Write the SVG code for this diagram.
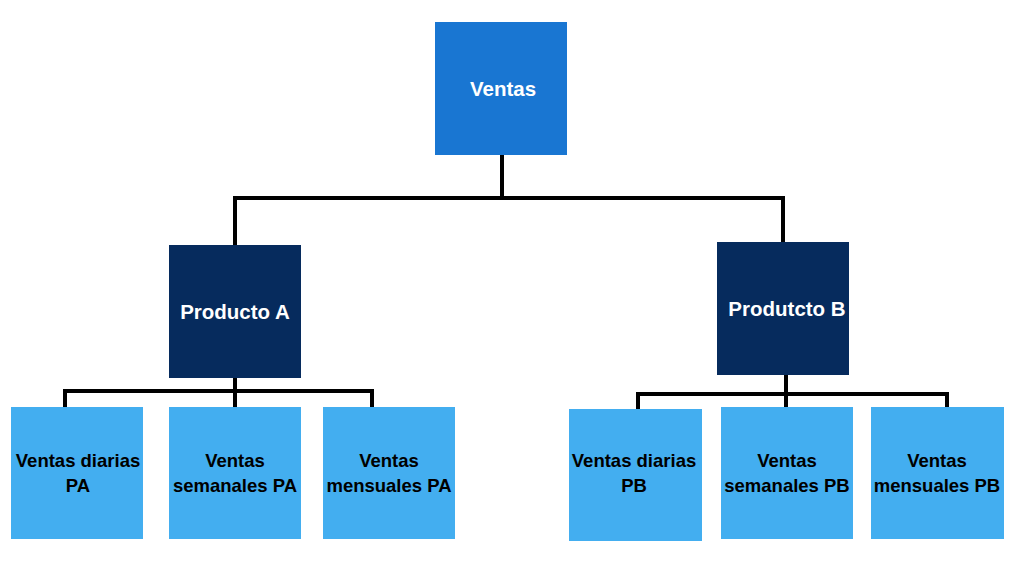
<svg xmlns="http://www.w3.org/2000/svg" width="1024" height="573" viewBox="0 0 1024 573">
<style>
.top{fill:#1976D2}
.mid{fill:#062B5D}
.leaf{fill:#43AEF0}
.conn{fill:none;stroke:#000;stroke-width:4;stroke-linejoin:miter}
.wt{font-family:"Liberation Sans",Arial,sans-serif;font-weight:bold;font-size:20.5px;fill:#fff;text-anchor:middle}
.bt{font-family:"Liberation Sans",Arial,sans-serif;font-weight:bold;font-size:18.5px;fill:#000;text-anchor:middle}
</style>
<rect width="1024" height="573" fill="#fff"/>
<g id="connectors">
<path class="conn" d="M502 155 V198 M235 245 V198 H783 V242"/>
<path class="conn" d="M235 378 V407 M65 407 V391 H372 V407"/>
<path class="conn" d="M786 375 V407 M638 409 V394 H947 V407"/>
</g>
<g id="ventas">
<rect class="top" x="435" y="22" width="132" height="133"/>
<text class="wt" x="503" y="96">Ventas</text>
</g>
<g id="productoA">
<rect class="mid" x="169" y="245" width="132" height="133"/>
<text class="wt" x="235" y="319">Producto A</text>
</g>
<g id="productoB">
<rect class="mid" x="717" y="242" width="132" height="133"/>
<text class="wt" x="787" y="316">Produtcto B</text>
</g>
<g id="diariasPA">
<rect class="leaf" x="11" y="407" width="132" height="132"/>
<text class="bt" x="78" y="467">Ventas diarias</text>
<text class="bt" x="78" y="492">PA</text>
</g>
<g id="semanalesPA">
<rect class="leaf" x="169" y="407" width="132" height="132"/>
<text class="bt" x="235" y="467">Ventas</text>
<text class="bt" x="235" y="492">semanales PA</text>
</g>
<g id="mensualesPA">
<rect class="leaf" x="323" y="407" width="132" height="132"/>
<text class="bt" x="389" y="467">Ventas</text>
<text class="bt" x="389" y="492">mensuales PA</text>
</g>
<g id="diariasPB">
<rect class="leaf" x="569" y="409" width="133" height="132"/>
<text class="bt" x="634" y="467">Ventas diarias</text>
<text class="bt" x="634" y="492">PB</text>
</g>
<g id="semanalesPB">
<rect class="leaf" x="721" y="407" width="132" height="132"/>
<text class="bt" x="787" y="467">Ventas</text>
<text class="bt" x="787" y="492">semanales PB</text>
</g>
<g id="mensualesPB">
<rect class="leaf" x="871" y="407" width="133" height="132"/>
<text class="bt" x="937" y="467">Ventas</text>
<text class="bt" x="937" y="492">mensuales PB</text>
</g>
</svg>
